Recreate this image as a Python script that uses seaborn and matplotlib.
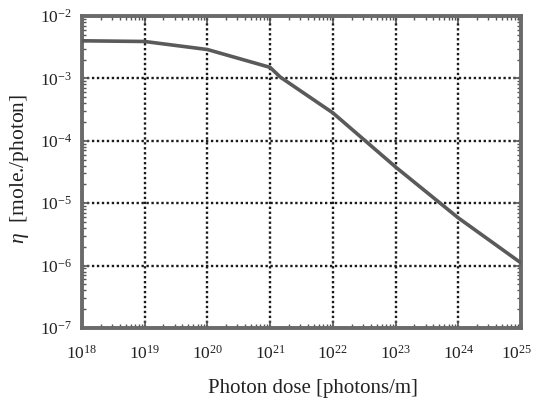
import numpy as np
import pandas as pd
import matplotlib
matplotlib.use("Agg")
import matplotlib.pyplot as plt
import matplotlib.transforms as mtransforms
import seaborn as sns

# values
dose = [1e18, 1e19, 1e20, 1e21, 1.45e21, 1e22, 1e23, 1e24, 1e25]
eta = [4.0e-3, 3.9e-3, 2.9e-3, 1.5e-3, 1.05e-3, 2.8e-4, 3.8e-5, 5.8e-6, 1.1e-6]

x_ticks = [10.0**k for k in range(18, 26)]
y_ticks = [10.0**k for k in range(-7, -1)]

df = pd.DataFrame({"dose": dose, "eta": eta})

sns.set_style("ticks")
plt.rcParams["font.family"] = ["Liberation Serif", "DejaVu Serif"]
plt.rcParams["mathtext.fontset"] = "custom"
plt.rcParams["mathtext.rm"] = "Liberation Serif"
plt.rcParams["mathtext.it"] = "Liberation Serif:italic"

fig = plt.figure(figsize=(5.35, 3.99), dpi=100)
ax = fig.add_axes([0.153, 0.178, 0.821, 0.782])

sns.lineplot(data=df, x="dose", y="eta", ax=ax, color="#5a5a5a", linewidth=2.6, zorder=3)

ax.set_xscale("log")
ax.set_yscale("log")
ax.set_xlim(1e18, 1e25)
ax.set_ylim(1e-7, 1e-2)
ax.set_xticks(x_ticks)
ax.set_yticks(y_ticks)

ax.grid(True, which="major", color="#1a1a1a", linestyle=(0, (1, 1.1)), linewidth=1.7)
ax.tick_params(which="both", direction="in", top=True, right=True, colors="#555555",
               labelcolor="#222222", labelsize=12.5)
ax.tick_params(which="major", length=5, width=1.2)
ax.tick_params(which="minor", length=3, width=1.0)
ax.tick_params(axis="x", pad=12)
ax.tick_params(axis="y", pad=7)

# nudge the last x tick label so it stays inside the figure
fig.canvas.draw()
last = ax.get_xticklabels()[-1]
last.set_transform(last.get_transform() + mtransforms.ScaledTranslation(-4 / 100, 0, fig.dpi_scale_trans))

for s in ax.spines.values():
    s.set_linewidth(2.8)
    s.set_color("#6a6a6a")

ax.set_xlabel("Photon dose [photons/m]", fontsize=15, color="#222222")
ax.xaxis.set_label_coords(0.525, -0.165)
ax.set_ylabel(r"$\mathit{\eta}$  [mole./photon]", fontsize=15.5, color="#222222")
ax.yaxis.set_label_coords(-0.115, 0.51)

fig.savefig("out.png", dpi=100)
